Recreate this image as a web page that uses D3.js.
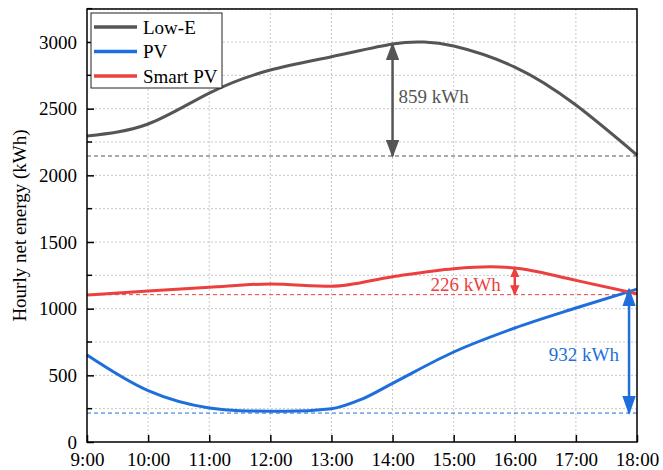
<!DOCTYPE html>
<html>
<head>
<meta charset="utf-8">
<script src="https://cdn.jsdelivr.net/npm/d3@7"></script>
<style>
  body { margin: 0; background: #fff; }
  text { font-family: "Liberation Serif", "DejaVu Serif", serif; }
</style>
</head>
<body>
<div id="chart"></div>
<script>
// hours as decimal values, one list per series
var tickLabels = ["9:00", "10:00", "11:00", "12:00", "13:00", "14:00", "15:00", "16:00", "17:00", "18:00"];

var lowEHours = [9, 10, 11, 12, 13, 14, 14.5, 15, 16, 17, 18];
var lowE      = [2295, 2385, 2617, 2790, 2890, 2985, 3000, 2970, 2812, 2527, 2152];

var pvHours = [9, 10, 11, 11.5, 12.25, 13, 13.5, 14, 15, 16, 17, 18];
var pv      = [652, 385, 255, 235, 231, 250, 322, 440, 675, 855, 1005, 1147];

var smartHours = [9, 10, 11, 12, 13, 14, 15, 15.6, 16, 17, 18];
var smartPv    = [1102, 1132, 1160, 1185, 1168, 1240, 1300, 1314, 1305, 1212, 1112];

var seriesNames = ["Low-E", "PV", "Smart PV"];
var colors = ["#555555", "#1e6fdc", "#ec4040"];

// reference levels and difference annotations
var baseLines = [2145, 217, 1105];
var annotations = [
  { x: 14,    top: 2985, bottom: 2145, label: "859 kWh", color: 0, anchor: "start", dx: 6,   ly: 2595, head: [7.2, 5.4] },
  { x: 17.87, top: 1145, bottom: 217,  label: "932 kWh", color: 1, anchor: "end",   dx: -10, ly: 655,  head: [7.6, 5.4] },
  { x: 16,    top: 1305, bottom: 1105, label: "226 kWh", color: 2, anchor: "end",   dx: -14, ly: 1180, head: [4.2, 3.8] }
];

var margin = { top: 9, right: 26, bottom: 28, left: 87 },
    width = 663 - margin.left - margin.right,
    height = 470 - margin.top - margin.bottom;

var svg = d3.select("#chart").append("svg")
    .attr("width", 663)
    .attr("height", 470);

var defs = svg.append("defs");
annotations.forEach(function (a, i) {
  defs.append("marker")
      .attr("id", "head" + i)
      .attr("viewBox", "0 0 10 10")
      .attr("refX", 9).attr("refY", 5)
      .attr("markerWidth", a.head[0]).attr("markerHeight", a.head[1])
      .attr("markerUnits", "strokeWidth")
      .attr("preserveAspectRatio", "none")
      .attr("orient", "auto-start-reverse")
      .append("path")
      .attr("d", "M0,0L10,5L0,10Z")
      .attr("fill", colors[a.color]);
});

var g = svg.append("g")
    .attr("transform", "translate(" + margin.left + "," + margin.top + ")");

var xScale = d3.scaleLinear().domain([9, 18]).range([0, width]);
// 3000 sits 33px below the top frame
var yScale = d3.scaleLinear().domain([0, 3000 * height / (height - 33)]).range([height, 0]);

// grid
var gridY = d3.range(250, 3251, 250);
g.append("g").selectAll("line").data(gridY).enter().append("line")
    .attr("x1", 0).attr("x2", width)
    .attr("y1", function (d) { return yScale(d); })
    .attr("y2", function (d) { return yScale(d); })
    .attr("stroke", "#c8c8c8").attr("stroke-dasharray", "2,2");
g.append("g").selectAll("line").data(d3.range(10, 18)).enter().append("line")
    .attr("y1", 0).attr("y2", height)
    .attr("x1", function (d) { return xScale(d); })
    .attr("x2", function (d) { return xScale(d); })
    .attr("stroke", "#c8c8c8").attr("stroke-dasharray", "2,2");

// baselines
g.append("g").selectAll("line").data(baseLines).enter().append("line")
    .attr("x1", 0).attr("x2", width)
    .attr("y1", function (d) { return yScale(d); })
    .attr("y2", function (d) { return yScale(d); })
    .attr("stroke", function (d, i) { return colors[i]; })
    .attr("stroke-width", 1)
    .attr("stroke-dasharray", "4,3");

// lines
var curves = [d3.curveNatural, d3.curveMonotoneX, d3.curveMonotoneX];

[[lowEHours, lowE], [pvHours, pv], [smartHours, smartPv]].forEach(function (s, i) {
  var line = d3.line()
      .x(function (d) { return xScale(d[0]); })
      .y(function (d) { return yScale(d[1]); })
      .curve(curves[i]);
  g.append("path")
      .datum(s[0].map(function (h, j) { return [h, s[1][j]]; }))
      .attr("fill", "none")
      .attr("stroke", colors[i])
      .attr("stroke-width", 3)
      .attr("d", line);
});

// arrows
annotations.forEach(function (a, i) {
  var c = colors[a.color];
  g.append("line")
      .attr("x1", xScale(a.x)).attr("x2", xScale(a.x))
      .attr("y1", yScale(a.top)).attr("y2", yScale(a.bottom))
      .attr("stroke", c)
      .attr("stroke-width", 2.5)
      .attr("marker-start", "url(#head" + i + ")")
      .attr("marker-end", "url(#head" + i + ")");
  g.append("text")
      .attr("x", xScale(a.x) + a.dx)
      .attr("y", yScale(a.ly))
      .attr("dy", "0.35em")
      .attr("text-anchor", a.anchor)
      .attr("fill", c)
      .attr("font-size", 19)
      .text(a.label);
});

// axes
var yAxis = g.append("g")
    .call(d3.axisLeft(yScale).tickValues(d3.range(0, 3001, 500)).tickSize(-7).tickPadding(10).tickFormat(d3.format("d")));
yAxis.selectAll("text").attr("font-size", 19).attr("fill", "#000").style("font-family", "Liberation Serif");
yAxis.select(".domain").remove();
yAxis.selectAll(".tick line").attr("stroke-width", 1.5);
g.append("g").selectAll("line").data(d3.range(250, 3251, 500)).enter().append("line")
    .attr("x1", 0).attr("x2", 5)
    .attr("y1", function (d) { return yScale(d); })
    .attr("y2", function (d) { return yScale(d); })
    .attr("stroke", "#000").attr("stroke-width", 1.5);

var xAxis = g.append("g")
    .attr("transform", "translate(0," + height + ")")
    .call(d3.axisBottom(xScale).tickValues(d3.range(9, 19)).tickSize(-7).tickPadding(11)
      .tickFormat(function (d, i) { return tickLabels[i]; }));
xAxis.selectAll("text").attr("font-size", 19).attr("fill", "#000").style("font-family", "Liberation Serif");
xAxis.select(".domain").remove();
xAxis.selectAll(".tick line").attr("stroke-width", 1.5);

// frame
g.append("rect")
    .attr("x", 0).attr("y", 0)
    .attr("width", width).attr("height", height)
    .attr("fill", "none").attr("stroke", "#000").attr("stroke-width", 1.5);

// y title
svg.append("text")
    .attr("transform", "translate(26," + (margin.top + height / 2) + ") rotate(-90)")
    .attr("text-anchor", "middle")
    .attr("font-size", 19)
    .text("Hourly net energy (kWh)");

// legend
var legend = g.append("g").attr("transform", "translate(4,4)");
legend.append("rect")
    .attr("width", 131).attr("height", 75)
    .attr("fill", "#fff").attr("stroke", "#222").attr("stroke-width", 1);
seriesNames.forEach(function (n, i) {
  var y = 14 + i * 24.5;
  legend.append("line")
      .attr("x1", 3).attr("x2", 46)
      .attr("y1", y).attr("y2", y)
      .attr("stroke", colors[i]).attr("stroke-width", 3.5);
  legend.append("text")
      .attr("x", 52).attr("y", y)
      .attr("dy", "0.35em")
      .attr("font-size", 19)
      .text(n);
});
</script>
</body>
</html>
